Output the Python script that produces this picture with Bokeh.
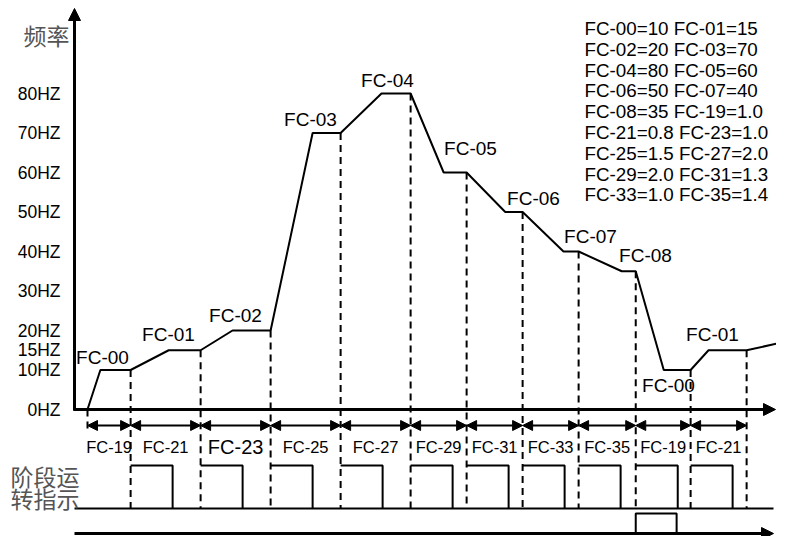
from bokeh.plotting import figure
from bokeh.models import Arrow, NormalHead, Range1d, ColumnDataSource
from bokeh.core.properties import value
from bokeh.embed import file_html
from bokeh.resources import INLINE

# ---------------- data ----------------
# stage boundaries on the (schematic) time axis
time_bounds = [0, 0.77, 2.02, 3.27, 4.52, 5.77, 6.77, 7.77, 8.77, 9.79, 10.77, 11.77]
interval_params = ["FC-19", "FC-21", "FC-23", "FC-25", "FC-27", "FC-29",
                   "FC-31", "FC-33", "FC-35", "FC-19", "FC-21"]
# frequency curve
curve_t = [0, 0.23, 0.77, 1.45, 2.02, 2.59, 3.27, 4.02, 4.52, 5.25, 5.77, 6.36,
           6.77, 7.46, 7.77, 8.50, 8.77, 9.54, 9.79, 10.29, 10.77, 11.09, 11.77, 12.41]
curve_hz = [0, 10, 10, 15, 15, 20, 20, 70, 70, 80, 80, 60,
            60, 50, 50, 40, 40, 35, 35, 10, 10, 15, 15, 17]
# frequency held at the end of each stage
step_names = ["FC-00", "FC-01", "FC-02", "FC-03", "FC-04", "FC-05",
              "FC-06", "FC-07", "FC-08", "FC-00", "FC-01"]
step_hz = [10, 15, 20, 70, 80, 60, 50, 40, 35, 10, 15]
tick_hz = [0, 10, 15, 20, 30, 40, 50, 60, 70, 80]
tick_labels = ["0HZ", "10HZ", "15HZ", "20HZ", "30HZ", "40HZ", "50HZ", "60HZ", "70HZ", "80HZ"]
param_lines = ["FC-00=10 FC-01=15", "FC-02=20 FC-03=70", "FC-04=80 FC-05=60",
               "FC-06=50 FC-07=40", "FC-08=35 FC-19=1.0", "FC-21=0.8 FC-23=1.0",
               "FC-25=1.5 FC-27=2.0", "FC-29=2.0 FC-31=1.3", "FC-33=1.0 FC-35=1.4"]
pulse_len = 0.75        # stage indicator pulse length
cycle_pulse_len = 0.73  # cycle-end pulse length
cycle_end_index = 9     # boundary where the cycle ends

# ---------------- layout (picture pixels -> data units) ----------------
W, H = 776, 536
X0, PXT = 87.0, 56.0     # x of t=0, px per time unit
Y0, PXH = 409.0, 3.95    # y of 0 Hz, px per Hz


def tx(px):
    return (px - X0) / PXT


def fy(py):
    return (Y0 - py) / PXH


FONT = value("Liberation Sans")
CJK = value("Noto Sans CJK SC")
GREY = "#555555"

p = figure(width=W, height=H, x_range=Range1d(tx(0), tx(W)),
           y_range=Range1d(fy(H), fy(0)), x_axis_type=None, y_axis_type=None,
           toolbar_location=None, output_backend="svg", min_border=0,
           outline_line_color=None)
p.background_fill_color = "white"
p.border_fill_color = "white"


def head(s):
    return NormalHead(size=s, fill_color="black", line_color="black", line_width=1)


# axes with arrows
p.add_layout(Arrow(end=head(12), x_start=tx(74), y_start=fy(410), x_end=tx(74), y_end=fy(8),
                   line_width=3, line_color="black"))
p.add_layout(Arrow(end=head(12), x_start=tx(73), y_start=0, x_end=tx(775), y_end=0,
                   line_width=3, line_color="black"))

# y tick labels
p.text(x=[tx(60)] * len(tick_hz), y=tick_hz, text=tick_labels, text_align="right",
       text_baseline="middle", text_font=FONT, text_font_size="17.5px", text_color="black")
p.text(x=[tx(23)], y=[fy(34)], text=["频率"], text_align="left", text_baseline="middle",
       text_font=CJK, text_font_size="23px", text_color=GREY)

# frequency curve
p.line(curve_t, curve_hz, line_color="black", line_width=2)

# dashed stage boundaries
base_stage = fy(508)
p.segment(x0=time_bounds[1:], y0=step_hz, x1=time_bounds[1:], y1=[base_stage] * len(step_hz),
          line_color="black", line_width=2, line_dash="7 5")
p.segment(x0=[time_bounds[0]], y0=[0], x1=[time_bounds[0]], y1=[fy(433)],
          line_color="black", line_width=2, line_dash="7 5")

# step labels: x centre (px) and vertical offset from the step level (px, + is up)
label_x_px = [102, 168, 235, 310, 387, 470, 533, 590, 645, 668, 712]
label_dy_px = [13, 16, 15, 14, 13, 24, 14, 15, 16, -15, 16]
p.text(x=[tx(a) for a in label_x_px],
       y=[h + d / PXH for h, d in zip(step_hz, label_dy_px)], text=step_names,
       text_align="center", text_baseline="middle", text_font=FONT,
       text_font_size="19px", text_color="black")

# interval arrows + labels
arrow_y = fy(425)
for i in range(len(interval_params)):
    p.add_layout(Arrow(start=head(10), end=head(10),
                       x_start=time_bounds[i], y_start=arrow_y,
                       x_end=time_bounds[i + 1], y_end=arrow_y,
                       line_width=2, line_color="black"))
mids = [(time_bounds[i] + time_bounds[i + 1]) / 2 for i in range(len(interval_params))]
sizes = ["20px" if n == "FC-23" else "16.5px" for n in interval_params]
src = ColumnDataSource(dict(x=mids, y=[fy(446)] * len(mids), t=interval_params, fs=sizes))
p.text(x="x", y="y", text="t", source=src, text_align="center", text_baseline="middle",
       text_font=FONT, text_font_size="fs", text_color="black")

# stage indicator
pulse_top = fy(465)
xs, ys = [], []
for b in time_bounds[1:-1]:
    xs.append([b, b + pulse_len, b + pulse_len])
    ys.append([pulse_top, pulse_top, base_stage])
p.multi_line(xs, ys, line_color="black", line_width=2)
p.segment(x0=[tx(74)], y0=[base_stage], x1=[tx(773)], y1=[base_stage],
          line_color="black", line_width=2)
p.text(x=[tx(10), tx(10)], y=[fy(475), fy(497)], text=["阶段运", "转指示"],
       text_align="left", text_baseline="middle", text_font=CJK,
       text_font_size="23px", text_color=GREY)

# cycle-end indicator
bottom_y = fy(533)
p.add_layout(Arrow(end=head(12), x_start=tx(74), y_start=bottom_y, x_end=tx(773), y_end=bottom_y,
                   line_width=3, line_color="black"))
cb = time_bounds[cycle_end_index]
p.line([cb, cb, cb + cycle_pulse_len, cb + cycle_pulse_len],
       [bottom_y, fy(513), fy(513), bottom_y], line_color="black", line_width=2)

# parameter list
p.text(x=[tx(584)] * len(param_lines), y=[fy(28 + 20.8 * i) for i in range(len(param_lines))],
       text=param_lines, text_align="left", text_baseline="middle", text_font=FONT,
       text_font_size="18.8px", text_color="black")

open("out.html", "w").write(file_html(p, INLINE))
